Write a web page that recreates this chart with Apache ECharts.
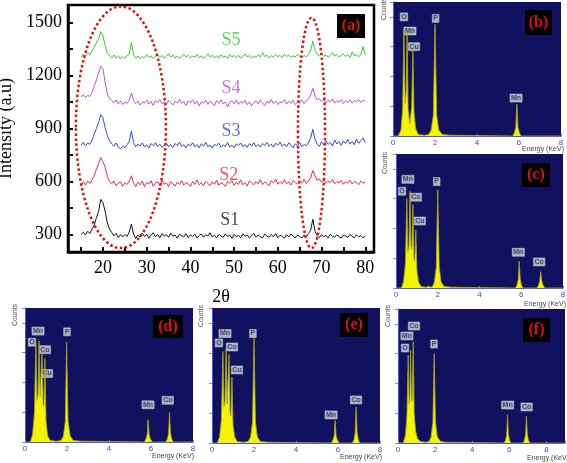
<!DOCTYPE html>
<html><head><meta charset="utf-8">
<script src="https://cdn.jsdelivr.net/npm/echarts@6/dist/echarts.min.js"></script>
<style>html,body{margin:0;padding:0;background:#fff}#c{width:567px;height:463px}</style>
</head><body><div id="c"></div>
<script>
// ---------- XRD data (panel a) ----------
const thetaStart = 15, thetaStep = 0.5;
const s1 = [300,312,296,318,305,330,352,395,430,498,
480,430,365,330,310,292,305,282,298,285,
300,288,312,358,302,276,296,284,306,288,
301,278,297,309,286,299,280,304,291,298,
283,307,289,296,278,300,292,286,303,281,
297,288,300,279,294,302,284,298,290,309,
285,295,280,299,291,283,302,288,296,278,
300,287,294,281,303,289,297,280,292,305,
284,296,288,279,301,290,283,298,287,304,
281,295,290,278,299,286,302,289,281,297,
288,279,296,284,305,322,385,318,292,281,
299,286,294,280,301,289,284,298,287,279,
296,290,283,300,288,281,297,286,293,280,
290];
const s2 = [575,598,580,602,588,610,632,668,702,735,
712,680,628,600,585,603,575,590,598,572,
594,582,600,632,590,570,596,581,603,570,
594,585,604,572,590,598,578,606,584,592,
570,600,586,574,597,583,605,579,594,587,
571,599,583,608,580,593,575,601,588,576,
598,584,607,578,592,586,572,600,589,604,
577,595,583,609,581,594,574,603,590,580,
600,586,611,582,597,588,576,604,592,613,
584,599,587,610,585,598,579,605,593,584,
602,590,612,588,603,620,662,632,606,614,
595,608,589,601,594,612,587,600,591,605,
584,598,590,607,586,600,593,581,602,590,
597];
const s3 = [805,822,800,818,810,835,868,900,935,978,
960,905,860,830,812,800,818,795,785,800,
790,808,825,885,820,796,812,800,819,795,
808,790,815,802,820,798,811,793,806,818,
797,810,792,815,803,822,799,808,790,812,
801,819,796,809,791,814,800,823,797,806,
789,811,802,817,794,808,798,820,795,807,
791,813,803,818,796,809,793,815,801,821,
797,810,795,816,804,822,798,811,794,817,
805,823,799,812,796,818,806,790,814,801,
820,797,809,802,818,845,895,840,812,798,
825,806,830,810,822,800,835,812,826,804,
830,815,838,811,826,808,840,816,832,846,
820];
const s4 = [1078,1092,1075,1088,1082,1105,1140,1175,1215,1252,
1238,1160,1095,1072,1058,1045,1062,1040,1055,1036,
1050,1042,1060,1102,1058,1040,1055,1032,1050,1044,
1062,1038,1054,1030,1058,1045,1064,1040,1052,1035,
1060,1047,1033,1056,1044,1066,1041,1053,1030,1057,
1046,1064,1039,1055,1028,1050,1043,1061,1037,1054,
1046,1030,1059,1042,1063,1038,1051,1022,1049,1058,
1040,1062,1036,1053,1044,1060,1034,1051,1027,1048,
1057,1039,1063,1045,1030,1054,1043,1065,1040,1056,
1035,1052,1046,1064,1038,1055,1042,1060,1036,1050,
1044,1062,1040,1057,1066,1090,1128,1085,1062,1070,
1052,1066,1045,1060,1050,1068,1043,1058,1049,1065,
1041,1056,1047,1063,1044,1059,1050,1066,1046,1061,
1055];
const s5 = [1305,1322,1310,1330,1318,1340,1362,1385,1410,1448,
1425,1370,1325,1312,1300,1316,1298,1310,1295,1308,
1299,1312,1320,1388,1315,1298,1311,1296,1307,1300,
1318,1302,1312,1296,1309,1320,1303,1314,1298,1310,
1325,1304,1316,1300,1312,1297,1308,1322,1305,1315,
1299,1311,1303,1319,1301,1313,1296,1309,1324,1306,
1315,1300,1312,1298,1318,1304,1311,1297,1320,1306,
1314,1301,1316,1299,1310,1323,1305,1313,1298,1312,
1302,1317,1306,1330,1308,1315,1300,1312,1304,1319,
1307,1314,1301,1320,1309,1316,1303,1312,1306,1322,
1308,1300,1315,1305,1318,1340,1395,1345,1322,1310,
1326,1309,1318,1304,1315,1330,1310,1320,1306,1314,
1325,1308,1318,1303,1335,1312,1320,1307,1318,1365,
1315];
const seriesNames = ['S1','S2','S3','S4','S5'];
const seriesColors = ['#111111','#ee2a40','#3348d4','#b553e6','#2fcf2f'];
const seriesLabelPos = [[49,381],[48.8,636],[49.3,886],[49.3,1130],[49.3,1402]];
const yTickValues = [300,450,600,750,900,1050,1200,1350,1500];
const yLabelValues = [300,600,900,1200,1500];
const xTickValues = [15,20,25,30,35,40,45,50,55,60,65,70,75,80];
const xLabelValues = [20,30,40,50,60,70,80];
// ellipses in data coords: [cx, cy, rx, ry]
const ellipses = [[24.1,907,10.3,685],[67.7,875,3.1,653]];

// ---------- EDS data (panels b-f), counts scaled 0..90 ----------
const edsB = [[0,0],[0.25,0],[0.38,4],[0.46,18],[0.52,72],[0.58,22],[0.63,30],[0.67,70],[0.72,18],[0.8,8],[0.89,20],[0.95,58],[1.0,16],[1.08,5],[1.2,1],[1.5,0.5],[1.7,1],[1.82,4],[1.92,14],[2.0,75],[2.08,14],[2.18,4],[2.35,1],[2.7,0.5],[2.78,1.8],[2.86,0.5],[5.7,0],[5.78,2],[5.85,6],[5.9,21.5],[5.95,6],[6.02,2],[6.1,0],[8,0]];
const edsC = [[0,0],[0.25,0],[0.36,4],[0.45,16],[0.52,60],[0.57,24],[0.62,28],[0.67,65],[0.72,26],[0.76,28],[0.81,56],[0.86,20],[0.9,18],[0.95,39],[1.0,12],[1.08,4],[1.2,1],[1.45,0.5],[1.55,1.2],[1.65,0.5],[1.75,1],[1.84,4],[1.93,14],[2.0,66],[2.07,14],[2.16,4],[2.3,1],[2.7,0.5],[2.78,1.5],[2.86,0.5],[5.72,0],[5.8,2],[5.86,6],[5.9,18],[5.95,6],[6.01,2],[6.08,0],[6.75,0],[6.83,2],[6.89,5],[6.93,11],[6.98,5],[7.04,2],[7.12,0],[8,0]];
const edsD = [[0,0],[0.25,0],[0.36,5],[0.45,20],[0.52,67],[0.57,28],[0.62,32],[0.67,68],[0.72,30],[0.76,30],[0.81,60],[0.86,26],[0.9,24],[0.95,56],[1.0,14],[1.08,4],[1.2,1],[1.5,0.5],[1.72,1],[1.83,4],[1.92,14],[1.98,67],[2.05,14],[2.15,4],[2.3,1],[2.7,0.5],[2.78,1.5],[2.86,0.5],[5.68,0],[5.76,2],[5.82,5],[5.86,15],[5.91,5],[5.97,2],[6.04,0],[6.7,0],[6.78,2],[6.84,6],[6.88,20],[6.93,6],[6.99,2],[7.06,0],[8,0]];
const edsE = [[0,0],[0.25,0],[0.36,4],[0.45,16],[0.52,61],[0.57,24],[0.62,28],[0.67,63],[0.72,26],[0.76,27],[0.81,59],[0.86,20],[0.9,18],[0.95,44],[1.0,12],[1.08,4],[1.2,1],[1.5,0.5],[1.72,1],[1.84,4],[1.93,14],[2.0,70],[2.07,14],[2.16,4],[2.3,1],[2.7,0.5],[2.78,1.8],[2.86,0.5],[5.68,0],[5.76,2],[5.82,5],[5.86,15],[5.91,5],[5.97,2],[6.04,0],[6.68,0],[6.76,2],[6.82,7],[6.86,24],[6.91,7],[6.97,2],[7.04,0],[8,0]];
const edsF = [[0,0],[0.28,0],[0.4,5],[0.48,18],[0.55,59],[0.6,26],[0.64,30],[0.68,62.5],[0.73,28],[0.77,30],[0.82,68],[0.87,20],[0.95,8],[1.05,3],[1.2,1],[1.5,0.5],[1.68,1],[1.78,4],[1.88,14],[1.95,60],[2.02,14],[2.12,4],[2.3,1],[2.6,0.5],[2.7,1.8],[2.8,0.5],[5.72,0],[5.8,2],[5.86,6],[5.9,19],[5.95,6],[6.01,2],[6.08,0],[6.74,0],[6.82,2],[6.88,6],[6.92,18],[6.97,6],[7.03,2],[7.1,0],[9,0]];
const labB = [[0.52,80,'O'],[0.81,70.5,'Mn'],[1.0,60,'Cu'],[2.03,79,'P'],[5.86,25.5,'Mn']];
const labC = [[0.29,65,'O'],[0.57,73,'Mn'],[0.95,61,'Co'],[1.14,45,'Cu'],[1.95,71.5,'P'],[5.86,24,'Mn'],[6.86,17.5,'Co']];
const labD = [[0.33,67,'O'],[0.62,74.5,'Mn'],[0.95,62,'Co'],[1.05,46,'Cu'],[2.0,74,'P'],[5.86,25,'Mn'],[6.8,28,'Co']];
const labE = [[0.33,66.7,'O'],[0.62,73,'Mn'],[0.95,64,'Co'],[1.19,48.7,'Cu'],[1.95,73,'P'],[5.67,18.7,'Mn'],[6.86,28.7,'Co']];
const labF = [[0.38,63.8,'O'],[0.48,71.9,'Mn'],[0.86,78.6,'Co'],[1.94,66.5,'P'],[5.91,25.5,'Mn'],[6.93,24.2,'Co']];
const edsSpectra = [edsB, edsC, edsD, edsE, edsF];
const edsLabels = [labB, labC, labD, labE, labF];
const edsXMax = [8, 8, 8, 8, 9];
const edsTags = ['(b)','(c)','(d)','(e)','(f)'];

// ---------- layout ----------
const edsGrids = [
  {left:393, top:2, width:168, height:134},
  {left:396, top:154, width:167, height:134},
  {left:25, top:308, width:168, height:134},
  {left:212, top:308, width:168, height:135},
  {left:398, top:309, width:167, height:134}
];
const tagBoxes = [[525,10,27,25],[522,163,28,24],[153,315,30,23],[340,313,28,24],[523,318,27,24]];
const countsPos = [[384,9],[385,163],[15,315],[201,316],[388,316]];
const energyPos = [[543,149],[545,304],[173,456],[361,457],[548,458]];

const serif = "'Liberation Serif','Times New Roman',serif";
const NAVY = '#111160';

const chart = echarts.init(document.getElementById('c'), null, {renderer:'canvas'});
const grids = [{left:68, top:5, width:306, height:247, show:true, borderColor:'#000', borderWidth:2.5,
  backgroundColor:'transparent', containLabel:false, outerBoundsMode:'none'}];
edsGrids.forEach(g => grids.push(Object.assign({show:true, backgroundColor:NAVY, borderWidth:0,
  containLabel:false, outerBoundsMode:'none'}, g)));

const xAxes = [{
  type:'value', gridIndex:0, min:12, max:82,
  axisLine:{show:true, lineStyle:{color:'#000', width:2.5}},
  axisTick:{show:true, inside:true, length:5, customValues:xTickValues, lineStyle:{color:'#000', width:2}},
  axisLabel:{show:true, customValues:xLabelValues, fontSize:18, fontFamily:serif, color:'#000', margin:7,
    formatter: v => String(v)},
  splitLine:{show:false},
  name:'2θ', nameLocation:'middle', nameGap:36, nameTextStyle:{fontSize:18, fontFamily:serif, color:'#000'}
}];
const yAxes = [{
  type:'value', gridIndex:0, min:200, max:1600,
  axisLine:{show:true, lineStyle:{color:'#000', width:2.5}},
  axisTick:{show:true, inside:true, length:5, customValues:yTickValues, lineStyle:{color:'#000', width:2}},
  axisLabel:{show:true, customValues:yLabelValues, fontSize:18, fontFamily:serif, color:'#000', margin:6,
    formatter: v => String(v)},
  splitLine:{show:false},
  name:'Intensity (a.u)', nameLocation:'middle', nameRotate:90, nameGap:45,
  nameTextStyle:{fontSize:18, fontFamily:serif, color:'#000'}
}];
edsGrids.forEach((g,i) => {
  xAxes.push({
    type:'value', gridIndex:i+1, min:0, max:edsXMax[i], interval:2,
    axisLine:{show:true, lineStyle:{color:'#4a5ae8', width:1}},
    axisTick:{show:true, inside:true, length:2, lineStyle:{color:'#7080e0'}},
    axisLabel:{show:true, fontSize:8, fontFamily:'Arial, sans-serif', color:'#3a4cd0', margin:3,
      formatter: v => (v % 2 === 0 ? String(v) : '')},
    splitLine:{show:false}
  });
  yAxes.push({
    type:'value', gridIndex:i+1, min:0, max:90, interval:20,
    axisLine:{show:true, lineStyle:{color:'#4a5ae8', width:1}},
    axisTick:{show:true, inside:false, length:3, lineStyle:{color:'#8090c8'}},
    axisLabel:{show:false},
    splitLine:{show:false}
  });
});

const series = [];
const xrd = [s1,s2,s3,s4,s5];
xrd.forEach((arr, k) => {
  series.push({
    type:'line', name:seriesNames[k], xAxisIndex:0, yAxisIndex:0, symbol:'none',
    lineStyle:{color:seriesColors[k], width:1}, silent:true, animation:false,
    data: arr.map((v,i) => [thetaStart + thetaStep*i, v])
  });
});
series.push({
  type:'scatter', xAxisIndex:0, yAxisIndex:0, symbolSize:0, animation:false, silent:true,
  data: seriesNames.map((n,k) => ({value:[seriesLabelPos[k][0], seriesLabelPos[k][1]], name:n,
    label:{show:true, position:'inside', formatter:n, fontSize:18, fontFamily:serif, color:seriesColors[k]}}))
});
edsSpectra.forEach((spec, i) => {
  series.push({
    type:'line', xAxisIndex:i+1, yAxisIndex:i+1, symbol:'none', animation:false, silent:true,
    lineStyle:{color:'#a8a814', width:0.8},
    areaStyle:{color:'#f4f400', opacity:1},
    data: spec
  });
  series.push({
    type:'scatter', xAxisIndex:i+1, yAxisIndex:i+1, symbolSize:0, animation:false, silent:true,
    data: edsLabels[i].map(d => ({value:[d[0], d[1]], name:d[2]})),
    label:{show:true, position:'inside', formatter: p => p.name, fontSize:7, fontWeight:'bold',
      fontFamily:'Arial, sans-serif', color:'#2a2a3a', backgroundColor:'#cfd8e6',
      borderColor:'#8090a8', borderWidth:0.5, padding:[1,1,0,1]}
  });
});

chart.setOption({animation:false, grid:grids, xAxis:xAxes, yAxis:yAxes, series:series});

// graphics: ellipses via axis conversion, tags and small texts
const gfx = [];
ellipses.forEach(e => {
  const c = chart.convertToPixel({xAxisIndex:0, yAxisIndex:0}, [e[0], e[1]]);
  const c2 = chart.convertToPixel({xAxisIndex:0, yAxisIndex:0}, [e[0]+e[2], e[1]+e[3]]);
  gfx.push({type:'ellipse', shape:{cx:c[0], cy:c[1], rx:Math.abs(c2[0]-c[0]), ry:Math.abs(c2[1]-c[1])},
    style:{fill:'none', stroke:'#e01010', lineWidth:2.5, lineDash:[2.5,2.5]}, z:20});
});
gfx.push({type:'rect', shape:{x:337, y:14, width:28, height:24}, style:{fill:'#000'}, z:30});
gfx.push({type:'text', x:351, y:26, style:{text:'(a)', fill:'#e01010', font:"bold 16px 'Liberation Serif', serif", align:'center', verticalAlign:'middle'}, z:31});
tagBoxes.forEach((b,i) => {
  gfx.push({type:'rect', shape:{x:b[0], y:b[1], width:b[2], height:b[3]}, style:{fill:'#000'}, z:30});
  gfx.push({type:'text', x:b[0]+b[2]/2, y:b[1]+b[3]/2, style:{text:edsTags[i], fill:'#e01010', font:"bold 16px 'Liberation Serif', serif", align:'center', verticalAlign:'middle'}, z:31});
});
countsPos.forEach(p => {
  gfx.push({type:'text', x:p[0], y:p[1], rotation:Math.PI/2, style:{text:'Counts', fill:'#555', font:"7px Arial, sans-serif", align:'center', verticalAlign:'middle'}, z:30});
});
energyPos.forEach(p => {
  gfx.push({type:'text', x:p[0], y:p[1], style:{text:'Energy (KeV)', fill:'#444', font:"7px Arial, sans-serif", align:'center', verticalAlign:'middle'}, z:30});
});
chart.setOption({graphic:gfx});
</script></body></html>
